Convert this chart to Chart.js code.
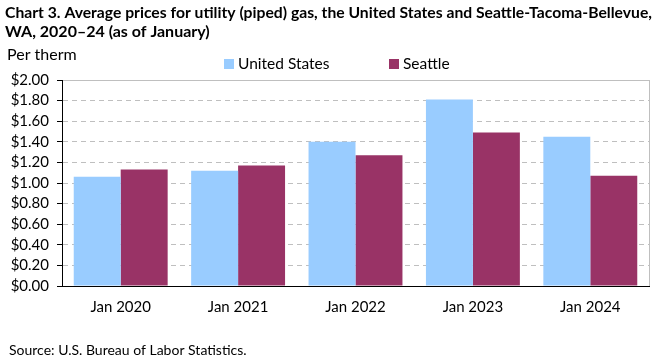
<!DOCTYPE html>
<html lang="en">
<head>
    <meta charset="UTF-8">
    <title>Chart 3. Average prices for utility (piped) gas</title>
    <script src="https://cdn.jsdelivr.net/npm/chart.js"></script>
    <style>
        html, body { margin: 0; padding: 0; background: #ffffff; }
        #wrap { width: 661px; height: 361px; position: relative; }
    </style>
</head>
<body>
    <div id="wrap">
        <canvas id="gasChart" width="661" height="361"></canvas>
    </div>
    <script>
const categories = ['Jan 2020', 'Jan 2021', 'Jan 2022', 'Jan 2023', 'Jan 2024'];
const usPrices = [1.06, 1.12, 1.40, 1.81, 1.45];
const seattlePrices = [1.13, 1.17, 1.27, 1.49, 1.07];
const seriesNames = ['United States', 'Seattle'];
const titleLines = [
    'Chart 3. Average prices for utility (piped) gas, the United States and Seattle-Tacoma-Bellevue,',
    'WA, 2020\u201324 (as of January)'
];
const unitLabel = 'Per therm';
const sourceNote = 'Source: U.S. Bureau of Labor Statistics.';

const FONT = 'Lato, "Open Sans", sans-serif';

// titulo, leyenda, nota y borde derecho dibujados a mano
const decorations = {
    id: 'decorations',
    afterDraw(chart) {
        const ctx = chart.ctx;
        const area = chart.chartArea;
        ctx.save();
        ctx.fillStyle = '#000';
        ctx.textBaseline = 'alphabetic';
        ctx.textAlign = 'left';
        ctx.font = 'bold 16px ' + FONT;
        ctx.fillText(titleLines[0], 5, 18, 647);
        ctx.fillText(titleLines[1], 5, 37);

        ctx.font = '16px ' + FONT;
        ctx.fillText(unitLabel, 7, 60);

        // leyenda
        const legendX = [224, 389];
        chart.data.datasets.forEach((ds, i) => {
            ctx.fillStyle = ds.backgroundColor;
            ctx.fillRect(legendX[i], 59, 10, 10);
            ctx.fillStyle = '#000';
            ctx.font = '15.5px ' + FONT;
            ctx.fillText(ds.label, legendX[i] + 14, 69);
        });

        ctx.font = '14px ' + FONT;
        ctx.fillText(sourceNote, 9, 355);

        // borde derecho del area
        ctx.strokeStyle = '#BFBFBF';
        ctx.lineWidth = 1;
        ctx.beginPath();
        ctx.moveTo(Math.round(area.right) + 0.5, area.top);
        ctx.lineTo(Math.round(area.right) + 0.5, area.bottom);
        ctx.stroke();
        ctx.restore();
    }
};

const ctx = document.getElementById('gasChart').getContext('2d');
new Chart(ctx, {
    type: 'bar',
    data: {
        labels: categories,
        datasets: [
            {
                label: seriesNames[0],
                data: usPrices,
                backgroundColor: '#99CCFF',
                barPercentage: 1.0,
                categoryPercentage: 0.8
            },
            {
                label: seriesNames[1],
                data: seattlePrices,
                backgroundColor: '#993366',
                barPercentage: 1.0,
                categoryPercentage: 0.8
            }
        ]
    },
    options: {
        responsive: false,
        animation: false,
        layout: { padding: { top: 80, right: 12, bottom: 0, left: 0 } },
        plugins: {
            legend: { display: false },
            title: { display: false },
            tooltip: { enabled: false }
        },
        scales: {
            x: {
                afterFit(scale) { scale.height = 75; },
                grid: { display: false, drawTicks: false },
                border: { display: true, color: '#000', width: 1 },
                ticks: {
                    color: '#000',
                    padding: 12,
                    font: { family: FONT, size: 15 }
                }
            },
            y: {
                min: 0,
                max: 2,
                afterFit(scale) { scale.width = 62; },
                grid: {
                    color: '#BFBFBF',
                    tickColor: '#000',
                    tickLength: 5,
                    drawTicks: true,
                    tickBorderDash: []
                },
                border: {
                    display: true,
                    color: '#000',
                    width: 1,
                    dash: c => (c.tick && c.tick.value === 2) ? [] : [5, 4]
                },
                ticks: {
                    stepSize: 0.2,
                    autoSkip: false,
                    color: '#000',
                    padding: 8,
                    font: { family: FONT, size: 15 },
                    callback: v => '$' + Number(v).toFixed(2)
                }
            }
        }
    },
    plugins: [decorations]
});
    </script>
</body>
</html>
